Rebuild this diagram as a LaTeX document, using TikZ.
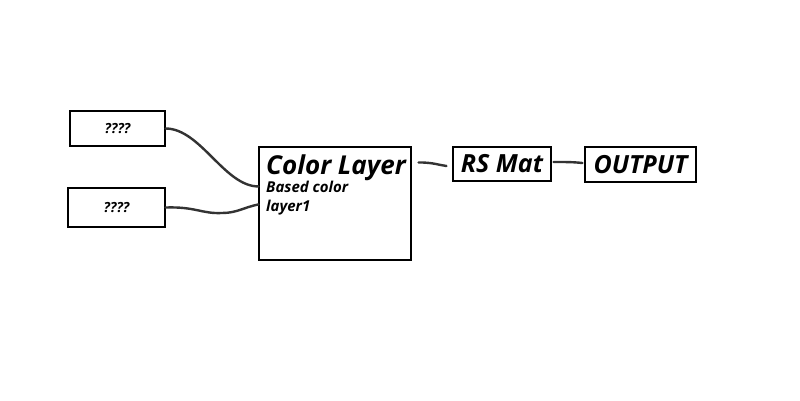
\documentclass[tikz,border=0pt]{standalone}
\usepackage{fontspec}
\setmainfont{Open Sans}
\usetikzlibrary{positioning}

\tikzset{
  box/.style={draw, line width=1.1pt, inner sep=0pt, fill=white},
  lbl/.style={anchor=base west, inner sep=0pt},
  wire/.style={line width=2.4pt, black!80, line cap=round}
}
\newcommand{\bi}[1]{\bfseries\itshape\fontsize{#1}{#1}\selectfont}

\begin{document}
\begin{tikzpicture}[x=1pt,y=1pt]
\useasboundingbox (0,0) rectangle (800,400);
% inputs
\node[box, minimum width=95pt, minimum height=35pt, font=\bi{14}] (qa) at (117.5,271.5) {????};
\node[box, minimum width=97pt, minimum height=39pt, font=\bi{14}] (qb) at (116.5,192.5) {????};
% color layer
\node[box, minimum width=152pt, minimum height=113pt] (colorlayer) at (335,196.5) {};
\node[lbl, font=\bi{26}] (cltitle) at (266,226) {Color Layer};
\node[lbl, font=\bi{15}] (clbased) at (266,208) {Based color};
\node[lbl, font=\bi{15}] (cllayer) at (266,189) {layer1};
% outputs
\node[box, minimum width=98pt, minimum height=34pt, font=\bi{25}] (rsmat) at (502,236) {RS Mat};
\node[box, minimum width=111pt, minimum height=35pt, font=\bi{25}] (output) at (640.5,235.5) {OUTPUT};
\coordinate (inA) at ([yshift=-40pt]colorlayer.north west);
\coordinate (inB) at ([yshift=-58pt]colorlayer.north west);
\draw[wire] (qa.east) .. controls +(35,0) and +(-34,0) .. (inA);
\draw[wire] (qb.east) .. controls +(30,1) and +(-20,-1) .. (222,187) .. controls +(15,0) and +(-15,-3) .. (inB);
\draw[wire] ([xshift=7pt,yshift=-16pt]colorlayer.north east) .. controls +(15,0) and +(-8,1) .. ([xshift=-6pt,yshift=-2pt]rsmat.west);
\draw[wire] ([xshift=2pt,yshift=2pt]rsmat.east) .. controls +(14,0) and +(-10,1) .. ([xshift=-2pt,yshift=1.5pt]output.west);
\end{tikzpicture}
\end{document}
